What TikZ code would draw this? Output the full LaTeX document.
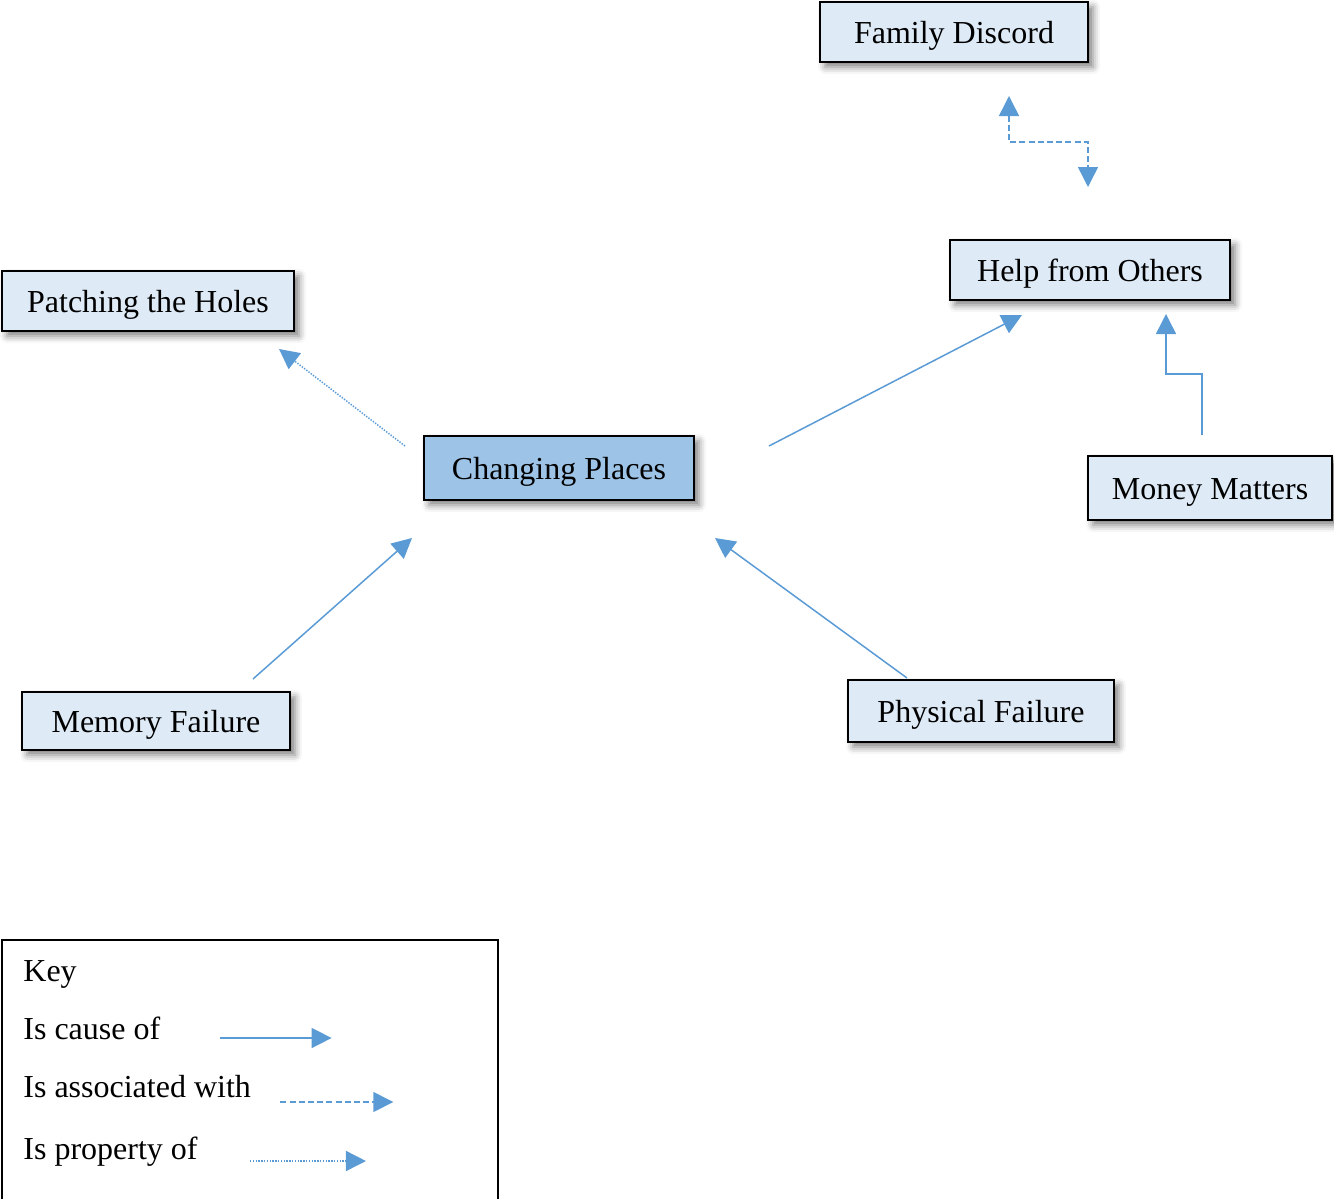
\documentclass[tikz,border=0pt]{standalone}
\usepackage{fontspec}
\setmainfont{Liberation Serif}
\usetikzlibrary{arrows.meta,shadows.blur}
\definecolor{LinkBlue}{HTML}{5B9BD5}
\definecolor{BoxLight}{HTML}{DEEBF7}
\definecolor{BoxDark}{HTML}{9DC3E6}

\begin{document}
\begin{tikzpicture}[x=0.5pt,y=-0.5pt,
    font=\fontsize{16}{19}\selectfont,
    theme/.style={draw=black,line width=1pt,fill=BoxLight,inner sep=0pt,minimum height=30pt,
      text height=13.5pt,text depth=2.5pt,
      blur shadow={shadow xshift=2.5pt,shadow yshift=-2.5pt,shadow blur radius=3.5pt,shadow opacity=50}},
    keytext/.style={anchor=west,inner sep=0pt,text height=13.5pt,text depth=2.5pt},
    cause/.style={LinkBlue,line width=0.75pt,-{Triangle[length=10pt,width=10pt]}},
    assoc/.style={cause,dash pattern=on 3pt off 1.6pt},
    prop/.style={cause,dash pattern=on 0.7pt off 0.7pt}]
  \useasboundingbox (0,0) rectangle (1334,1199);
  % --- Themes ---
  \node[theme,minimum width=134pt] (fd) at (954,32) {Family Discord};
  \node[theme,minimum width=140pt] (hfo) at (1090,270) {Help from Others};
  \node[theme,minimum width=146pt] (pth) at (148,301) {Patching the Holes};
  \node[theme,minimum width=135pt,minimum height=32pt,fill=BoxDark] (cp) at (559,468) {Changing Places};
  \node[theme,minimum width=122pt,minimum height=32pt] (mm) at (1210,488) {Money Matters};
  \node[theme,minimum width=134pt,minimum height=29pt] (mf) at (156,721) {Memory Failure};
  \node[theme,minimum width=133pt,minimum height=31pt] (pf) at (981,711) {Physical Failure};
  % --- Links ---
  \draw[prop] ([shift={(-18,11)}]cp.north west) -- ([shift={(-16,17)}]pth.south east);
  \draw[cause] ([shift={(74,11)}]cp.north east) -- ([shift={(73,14)}]hfo.south west);
  \draw[cause] ([shift={(97,-12)}]mf.north) -- ([shift={(-11,37)}]cp.south west);
  \draw[cause] ([shift={(-74,-1)}]pf.north) -- ([shift={(20,37)}]cp.south east);
  \draw[cause] ([shift={(-8,-20)}]mm.north) -- ++(0,-61) -| ([shift={(76,13)}]hfo.south);
  \draw[assoc,{Triangle[length=10pt,width=10pt]}-{Triangle[length=10pt,width=10pt]}]
    ([shift={(55,33)}]fd.south) -- ++(0,46) -| ([shift={(-2,-52)}]hfo.north);
  % --- Key ---
  \draw[line width=0.8pt] (2,940) rectangle (498,1215);
  \node[keytext] (key) at (23,970) {Key};
  \node[keytext] (kcause) at (23,1028) {Is cause of};
  \node[keytext] (kassoc) at (23,1086) {Is associated with};
  \node[keytext] (kprop) at (23,1148) {Is property of};
  \draw[cause] ([shift={(59,10)}]kcause.east) -- ++(112,0);
  \draw[assoc] ([shift={(29,16)}]kassoc.east) -- ++(113,0);
  \draw[prop] ([shift={(52,13)}]kprop.east) -- ++(116,0);
\end{tikzpicture}
\end{document}
